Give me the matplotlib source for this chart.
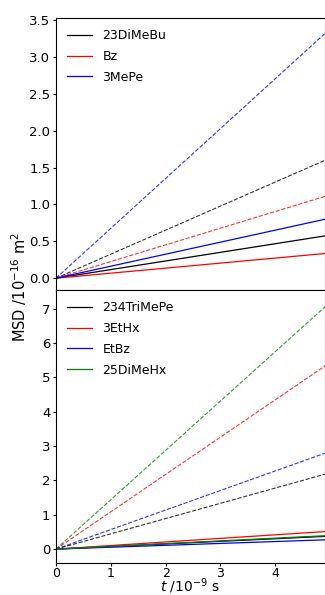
import matplotlib
matplotlib.use("Agg")
import matplotlib.pyplot as plt

# end time of the straight lines (they start at the origin)
t = [0.0, 4.91]

# top panel
top_names = ["23DiMeBu", "Bz", "3MePe"]
top_colors = ["black", "red", "blue"]
top_solid = [0.574, 0.335, 0.80]
top_dashed = [1.60, 1.11, 3.32]

# bottom panel
bot_names = ["234TriMePe", "3EtHx", "EtBz", "25DiMeHx"]
bot_colors = ["black", "red", "blue", "green"]
bot_solid = [0.37, 0.51, 0.27, 0.39]
bot_dashed = [2.18, 5.33, 2.79, 7.05]

fig = plt.figure(figsize=(3.25, 5.95), dpi=100)
ax1 = fig.add_axes([56/325, 1-290/595, 1-56/325, (290-18)/595])
ax2 = fig.add_axes([56/325, 1-562.5/595, 1-56/325, (562.5-290)/595], sharex=ax1)

for name, c, s, d in zip(top_names, top_colors, top_solid, top_dashed):
    ax1.plot(t, [0, s], color=c, lw=0.9, label=name)
    ax1.plot(t, [0, d], color=c, lw=0.8, ls="--", alpha=0.8)
for name, c, s, d in zip(bot_names, bot_colors, bot_solid, bot_dashed):
    ax2.plot(t, [0, s], color=c, lw=0.9, label=name)
    ax2.plot(t, [0, d], color=c, lw=0.8, ls="--", alpha=0.8)

ax1.set_xlim(0, 4.91)
ax1.set_ylim(-0.16, 3.53)
ax2.set_ylim(-0.39, 7.54)
ax1.set_yticks([0.0, 0.5, 1.0, 1.5, 2.0, 2.5, 3.0, 3.5])
ax2.set_yticks(range(0, 8))
ax2.set_xticks([0, 1, 2, 3, 4])
ax1.tick_params(labelbottom=False, labelsize=9.5, length=2.5, pad=1.5)
ax2.tick_params(labelsize=9.5, length=2.5, pad=1.5)
ax2.tick_params(axis="x", labelsize=9, pad=1)

ax1.legend(loc="upper left", frameon=False, fontsize=9, handlelength=2.0,
           labelspacing=0.62)
ax2.legend(loc="upper left", frameon=False, fontsize=9, handlelength=2.0,
           labelspacing=0.62)

fig.text(190/325, 1-591.5/595, "$t$ /10$^{-9}$ s", va="baseline", ha="center",
         fontsize=10)
fig.text(19/325, 1-287/595, "MSD /10$^{-16}$ m$^2$", rotation=90, va="center",
         ha="center", fontsize=10.5)

fig.savefig("out.png", dpi=100)
